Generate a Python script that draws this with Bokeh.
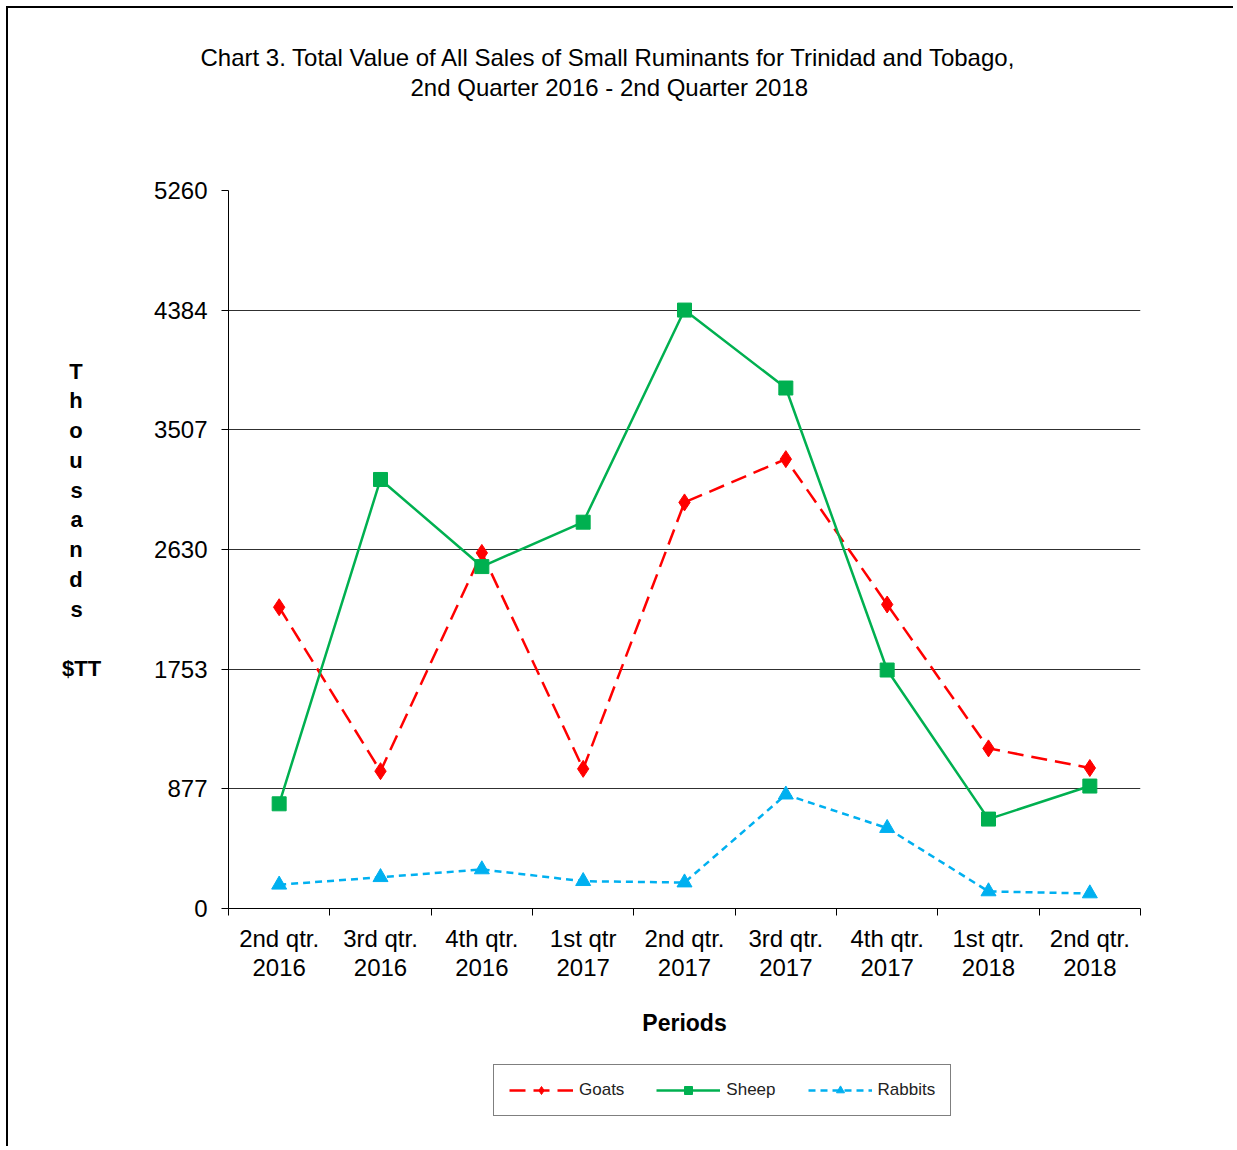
from bokeh.plotting import figure
from bokeh.layouts import column
from bokeh.models import Range1d, FixedTicker, Legend, LegendItem, Title
from bokeh.embed import file_html
from bokeh.resources import INLINE

# ---- data ----
periods = ["2nd qtr.\n2016", "3rd qtr.\n2016", "4th qtr.\n2016", "1st qtr\n2017",
           "2nd qtr.\n2017", "3rd qtr.\n2017", "4th qtr.\n2017", "1st qtr.\n2018",
           "2nd qtr.\n2018"]
goats = [2207, 1006, 2605, 1023, 2975, 3292, 2227, 1173, 1029]
sheep = [767, 3143, 2505, 2830, 4384, 3813, 1747, 655, 897]
rabbits = [174, 229, 286, 200, 190, 834, 589, 125, 110]
y_ticks = [0, 877, 1753, 2630, 3507, 4384, 5260]
y_max = 5260
title_lines = ["Chart 3. Total Value  of All Sales of Small Ruminants  for Trinidad and Tobago,",
               "2nd  Quarter 2016  - 2nd Quarter 2018"]
PAD = "\u00a0\u00a0\u00a0"
y_label = "\n".join(ch + PAD for ch in "Thousands") + "\n\n$TT\n\u00a0\n\u00a0"
series_names = ["Goats", "Sheep", "Rabbits"]

FONT = "'Liberation Sans', Arial, sans-serif"
RED, GREEN, CYAN = "#FF0000", "#00B050", "#00B0F0"

n = len(periods)
xs = [i + 0.5 for i in range(n)]

# ---------------- main chart ----------------
p = figure(width=1225, height=1042, output_backend="svg", toolbar_location=None,
           x_range=Range1d(0, n), y_range=Range1d(0, y_max),
           min_border_left=220, min_border_right=93, min_border_top=182, min_border_bottom=142)
p.outline_line_color = None
p.background_fill_color = "white"
p.border_fill_color = "white"

# title: spacer nearest the frame, then line 2, then line 1
p.title = None
spacer = Title(text="\u00a0", text_font_size="1px", standoff=87)
t2 = Title(text=title_lines[1], align="left", offset=182, standoff=0,
           text_font=FONT, text_font_size="24px", text_font_style="normal", text_color="black")
t1 = Title(text=title_lines[0], align="left", offset=-28, standoff=2,
           text_font=FONT, text_font_size="24px", text_font_style="normal", text_color="black")
p.add_layout(spacer, "above")
p.add_layout(t2, "above")
p.add_layout(t1, "above")

# x axis: labels at category centres, tick marks between categories
xa = p.xaxis[0]
xa.ticker = FixedTicker(ticks=xs, minor_ticks=list(range(n + 1)))
xa.major_label_overrides = {x: lab for x, lab in zip(xs, periods)}
xa.major_tick_line_color = None
xa.minor_tick_line_color = "black"
xa.minor_tick_in = 0
xa.minor_tick_out = 7
xa.axis_line_color = "black"
xa.major_label_text_font = FONT
xa.major_label_text_font_size = "24px"
xa.major_label_text_color = "black"
xa.major_label_standoff = 9
xa.major_label_text_line_height = 1.1
xa.axis_label = "Periods"
xa.axis_label_text_font = FONT
xa.axis_label_text_font_size = "23px"
xa.axis_label_text_font_style = "bold"
xa.axis_label_text_color = "black"
xa.axis_label_standoff = 26

# y axis
ya = p.yaxis[0]
ya.ticker = FixedTicker(ticks=y_ticks)
ya.minor_tick_line_color = None
ya.major_tick_in = 0
ya.major_tick_out = 7
ya.major_tick_line_color = "black"
ya.axis_line_color = "black"
ya.major_label_text_font = FONT
ya.major_label_text_font_size = "24px"
ya.major_label_text_color = "black"
ya.major_label_standoff = 14
ya.axis_label = y_label
ya.axis_label_orientation = "horizontal"
ya.axis_label_text_font = FONT
ya.axis_label_text_font_size = "22px"
ya.axis_label_text_font_style = "bold"
ya.axis_label_text_color = "black"
ya.axis_label_text_line_height = 1.19
ya.axis_label_standoff = 50

# grids
p.xgrid.grid_line_color = None
p.ygrid.ticker = FixedTicker(ticks=y_ticks[1:-1])
p.ygrid.grid_line_color = "#303030"
p.ygrid.grid_line_width = 1.2

# series
line_styles = [dict(color=RED, dash="16 8", marker="diamond", size=17),
               dict(color=GREEN, dash="solid", marker="square", size=14),
               dict(color=CYAN, dash="7 5", marker="triangle", size=15)]
for vals, st in zip([goats, sheep, rabbits], line_styles):
    p.line(xs, vals, line_color=st["color"], line_width=2.5, line_dash=st["dash"])
    p.scatter(xs, vals, marker=st["marker"], size=st["size"],
              fill_color=st["color"], line_color=st["color"])

# ---------------- legend strip below the chart ----------------
# same series drawn on a strip whose y range keeps them out of view; only the legend shows
q = figure(width=1225, height=96, output_backend="svg", toolbar_location=None,
           x_axis_type=None, y_axis_type=None, x_range=Range1d(0, n),
           y_range=Range1d(-2 * y_max, -y_max), min_border=0)
q.outline_line_color = None
q.background_fill_color = "white"
q.border_fill_color = "white"
q.grid.visible = False

items = []
for name, vals, st in zip(series_names, [goats, sheep, rabbits], line_styles):
    lr = q.line(xs, vals, line_color=st["color"], line_width=2.5, line_dash=st["dash"])
    mr = q.scatter(xs, vals, marker=st["marker"], size=12,
                   fill_color=st["color"], line_color=st["color"])
    items.append(LegendItem(label=name, renderers=[lr, mr]))

legend = Legend(items=items, orientation="horizontal", location=(265, 30))
legend.border_line_color = "black"
legend.border_line_width = 1.5
legend.background_fill_color = "white"
legend.label_text_font = FONT
legend.label_text_font_size = "17px"
legend.label_text_color = "#222222"
legend.glyph_width = 64
legend.glyph_height = 20
legend.label_standoff = 6
legend.spacing = 32
legend.padding = 15
legend.margin = 0
q.add_layout(legend, "center")

layout = column(p, q, spacing=0)
layout.styles = {"margin-left": "6px", "margin-top": "6px",
                 "border-top": "2px solid black", "border-left": "2px solid black"}

open("out.html", "w").write(file_html(layout, INLINE))
